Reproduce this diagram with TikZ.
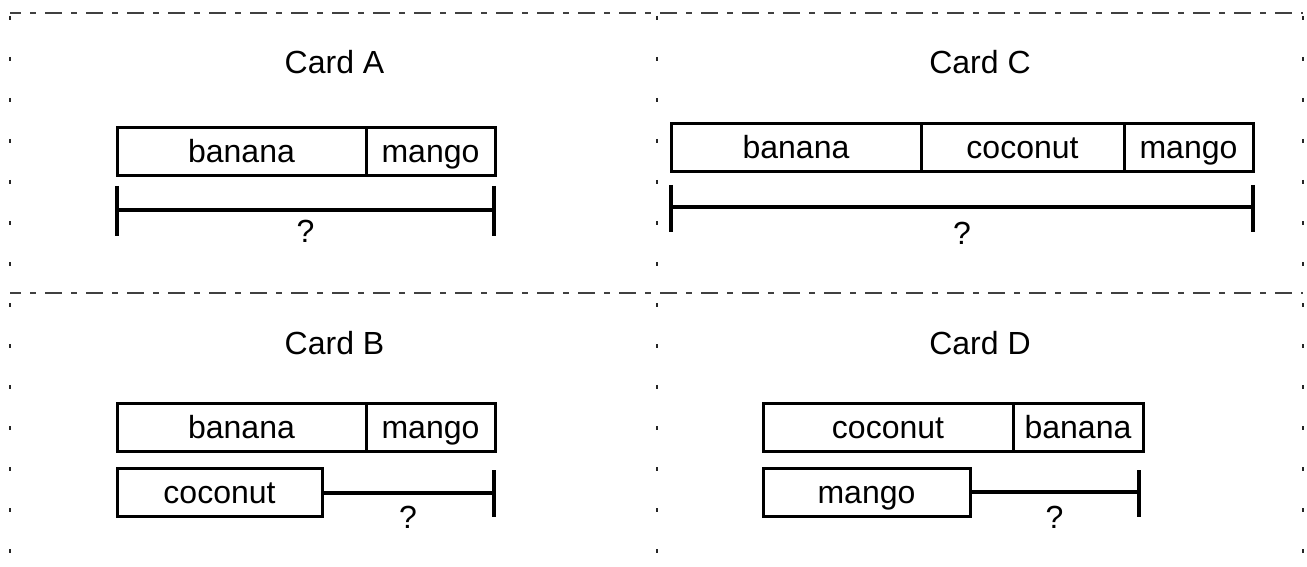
\documentclass[tikz,border=0pt]{standalone}
\usepackage{fontspec}
\setmainfont{Liberation Sans}
\begin{document}
\begin{tikzpicture}[x=1pt,y=-1pt,
  hline/.style={draw=black!75, line width=1.3pt, dash pattern=on 17pt off 9pt on 6pt off 9pt, dash phase=6pt},
  vline/.style={draw=black!85, line width=1.6pt, dash pattern=on 4pt off 37pt, dash phase=38pt},
  seg/.style={draw, line width=3pt, minimum height=48pt, inner sep=0pt, outer sep=0pt, text height=22pt, text depth=0pt, font=\fontsize{32}{38}\selectfont},
  title/.style={anchor=base, inner sep=0pt, font=\fontsize{32}{38}\selectfont},
  bar/.style={line width=4pt}]
\useasboundingbox (0,0) rectangle (1307,567);
% borders
\coordinate (tl) at (10,13);
\coordinate (tm) at (657,13);
\coordinate (tr) at (1303,13);
\coordinate (ml) at (10,293);
\coordinate (mr) at (1303,293);
\coordinate (bl) at (10,567);
\coordinate (bm) at (657,567);
\coordinate (br) at (1303,567);
\draw[hline] (tl) -- (tr);
\draw[hline] (ml) -- (mr);
\draw[vline] (tl) -- (bl);
\draw[vline] (tm) -- (bm);
\draw[vline] (tr) -- (br);
% Card A
\node[title] (At) at (334.5,74) {Card A};
\node[seg, minimum width=249pt] (A1) at (241.5,152) {banana};
\node[seg, minimum width=129pt] (A2) at (430.5,152) {mango};
\coordinate (Alt) at (117,186);
\coordinate (Alb) at (117,236);
\coordinate (Art) at (494,186);
\coordinate (Arb) at (494,236);
\coordinate (Al) at (117,210);
\coordinate (Ar) at (494,210);
\draw[bar] (Alt) -- (Alb);
\draw[bar] (Art) -- (Arb);
\draw[bar] (Al) -- (Ar);
\node[title] (Aq) at (305.5,242) {?};
% Card C
\node[title] (Ct) at (980,74) {Card C};
\node[seg, minimum width=250pt] (C1) at (796,147.5) {banana};
\node[seg, minimum width=203pt] (C2) at (1022.5,147.5) {coconut};
\node[seg, minimum width=129pt] (C3) at (1188.5,147.5) {mango};
\coordinate (Clt) at (671,185);
\coordinate (Clb) at (671,232);
\coordinate (Crt) at (1253,185);
\coordinate (Crb) at (1253,232);
\coordinate (Cl) at (671,207);
\coordinate (Cr) at (1253,207);
\draw[bar] (Clt) -- (Clb);
\draw[bar] (Crt) -- (Crb);
\draw[bar] (Cl) -- (Cr);
\node[title] (Cq) at (962,244) {?};
% Card B
\node[title] (Bt) at (334.5,354) {Card B};
\node[seg, minimum width=249pt] (B1) at (241.5,427) {banana};
\node[seg, minimum width=129pt] (B2) at (430.5,427) {mango};
\node[seg, minimum width=205pt] (B3) at (219.5,492) {coconut};
\coordinate (Bre) at (494,493);
\coordinate (Brt) at (494,470);
\coordinate (Brb) at (494,517);
\draw[bar] (B3.east |- Bre) -- (Bre);
\draw[bar] (Brt) -- (Brb);
\node[title] (Bq) at (408,528) {?};
% Card D
\node[title] (Dt) at (980,354) {Card D};
\node[seg, minimum width=250pt] (D1) at (888,427.5) {coconut};
\node[seg, minimum width=130pt] (D2) at (1078,427.5) {banana};
\node[seg, minimum width=207pt] (D3) at (866.5,492) {mango};
\coordinate (Dre) at (1139,492);
\coordinate (Drt) at (1139,470);
\coordinate (Drb) at (1139,517);
\draw[bar] (D3.east |- Dre) -- (Dre);
\draw[bar] (Drt) -- (Drb);
\node[title] (Dq) at (1054.5,528) {?};
\end{tikzpicture}
\end{document}
